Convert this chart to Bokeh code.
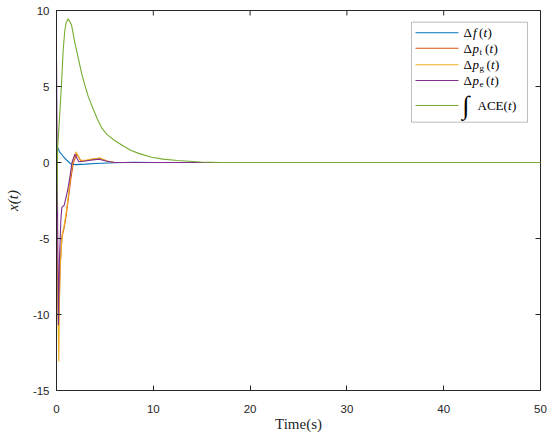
from bokeh.plotting import figure
from bokeh.models import Range1d, FixedTicker, BoxAnnotation, Label
from bokeh.embed import file_html
from bokeh.resources import INLINE

# ---------------- data ----------------
t_f = [0, 0.1, 0.3, 0.62, 1.1, 1.5, 2.0, 3.0, 4.0, 6.0, 8.0, 10.0, 15.0, 50.0]
d_f = [1.25, 1.0, 0.72, 0.46, 0.13, -0.11, -0.14, -0.11, -0.07, -0.02, 0.02, 0.0, 0.0, 0.0]

t_pt = [0, 0.06, 0.2, 0.3, 0.38, 0.45, 0.57, 0.8, 1.0, 1.2, 1.5, 1.75, 2.1, 2.5, 3.0, 3.6, 4.5, 5.2, 6.0, 8.0, 50.0]
d_pt = [-3.2, -5.6, -10.6, -8.8, -6.9, -6.0, -4.9, -4.25, -3.5, -2.5, -1.0, 0.0, 0.55, 0.12, 0.12, 0.2, 0.28, 0.1, 0.0, 0.0, 0.0]

t_pg = [0, 0.1, 0.24, 0.3, 0.36, 0.45, 0.57, 0.8, 1.0, 1.2, 1.45, 1.7, 2.0, 2.5, 3.0, 3.6, 4.5, 5.2, 6.0, 8.0, 50.0]
d_pg = [-1.0, -8.0, -13.1, -9.5, -7.0, -6.2, -4.8, -4.1, -3.3, -2.3, -0.8, 0.1, 0.7, 0.15, 0.14, 0.22, 0.3, 0.1, 0.0, 0.0, 0.0]

t_pe = [0, 0.1, 0.2, 0.3, 0.45, 0.55, 0.8, 1.15, 1.4, 1.6, 1.9, 2.3, 2.8, 3.5, 4.4, 5.2, 6.0, 8.0, 50.0]
d_pe = [6.7, -2.5, -10.7, -6.5, -3.8, -2.95, -2.8, -1.84, -0.9, 0.0, 0.55, 0.05, 0.08, 0.15, 0.22, 0.08, 0.0, 0.0, 0.0]

t_ace = [0, 0.03, 0.12, 0.34, 0.52, 0.69, 0.86, 1.0, 1.2, 1.4, 1.55, 1.89, 2.24, 2.58, 2.92, 3.3, 3.8, 4.2, 4.65,
         5.2, 6.0, 7.0, 7.7, 8.5, 9.8, 11.0, 12.5, 14.9, 17.0, 50.0]
d_ace = [0.0, -3.2, 1.0, 3.2, 5.2, 7.4, 8.7, 9.2, 9.45, 9.25, 9.05, 7.9, 6.9, 5.9, 5.1, 4.3, 3.5, 2.9, 2.3,
         1.85, 1.45, 1.05, 0.79, 0.6, 0.35, 0.22, 0.13, 0.03, 0.0, 0.0]

x_ticks = [0, 10, 20, 30, 40, 50]
x_tick_labels = ["0", "10", "20", "30", "40", "50"]
y_ticks = [-15, -10, -5, 0, 5, 10]
y_tick_labels = ["-15", "-10", "-5", "0", "5", "10"]

colors = ["#0072BD", "#D95319", "#EDB120", "#7E2F8E", "#77AC30"]

# ---------------- layout constants (page pixels) ----------------
X0, X1, Y0, Y1 = 0, 50, -15, 10
FL, FR, FT, FB = 56, 540, 10, 390   # frame edges on the page
W, H = 548, 436


def dx(px):
    return X0 + (px - FL) / (FR - FL) * (X1 - X0)


def dy(py):
    return Y1 - (py - FT) / (FB - FT) * (Y1 - Y0)


AX = "#262626"
TICK_FONT = "Liberation Sans"
SERIF = "Liberation Serif"

p = figure(width=W, height=H, output_backend="svg", toolbar_location=None,
           x_range=Range1d(X0, X1), y_range=Range1d(Y0, Y1),
           min_border_left=FL, min_border_right=W - FR, min_border_top=FT, min_border_bottom=H - FB)
p.background_fill_color = "white"
p.border_fill_color = "white"
p.outline_line_color = AX
p.outline_line_width = 1
p.xgrid.visible = False
p.ygrid.visible = False

for ax, ticks, labels in ((p.xaxis[0], x_ticks, x_tick_labels), (p.yaxis[0], y_ticks, y_tick_labels)):
    ax.ticker = FixedTicker(ticks=ticks)
    ax.major_label_overrides = {t: l for t, l in zip(ticks, labels)}
    ax.major_tick_in = 5
    ax.major_tick_out = 0
    ax.minor_tick_line_color = None
    ax.axis_line_color = AX
    ax.major_tick_line_color = AX
    ax.major_label_text_font = TICK_FONT
    ax.major_label_text_font_size = "11.5px"
    ax.major_label_text_color = AX
    ax.axis_label_text_font = SERIF
    ax.axis_label_text_font_size = "15px"
    ax.axis_label_text_color = AX

p.xaxis[0].axis_label = "Time(s)"
p.xaxis[0].axis_label_text_font_style = "normal"
p.xaxis[0].major_label_standoff = 14
p.xaxis[0].axis_label_standoff = 0
p.yaxis[0].axis_label = "x(t)"
p.yaxis[0].axis_label_text_font_style = "italic"
p.yaxis[0].major_label_standoff = 7
p.yaxis[0].axis_label_standoff = 9

# mirrored inward ticks on the top and right edges
tx = (X1 - X0) * 5 / (FR - FL)
ty = (Y1 - Y0) * 5 / (FB - FT)
p.segment(x0=x_ticks, x1=x_ticks, y0=[Y1] * len(x_ticks), y1=[Y1 - ty] * len(x_ticks), line_color=AX, line_width=1)
p.segment(x0=[X1] * len(y_ticks), x1=[X1 - tx] * len(y_ticks), y0=y_ticks, y1=y_ticks, line_color=AX, line_width=1)

# ---------------- curves ----------------
series = [(t_f, d_f), (t_pt, d_pt), (t_pg, d_pg), (t_pe, d_pe), (t_ace, d_ace)]
for (tt, vv), c in zip(series, colors):
    p.line(tt, vv, line_color=c, line_width=1.1)

# ---------------- legend (manual, for math-like labels) ----------------
p.add_layout(BoxAnnotation(left=dx(411), right=dx(527), top=dy(21.7), bottom=dy(121.7),
                           fill_color="white", fill_alpha=1.0, line_color=AX, line_width=1, level="underlay"))

row_y = [32.3, 47.7, 64.3, 80.0, 105.0]
p.segment(x0=[dx(415)] * 5, x1=[dx(458)] * 5, y0=[dy(r) for r in row_y], y1=[dy(r) for r in row_y],
          line_color=colors, line_width=1.1)


def txt(s, px, py, size="13px", style="normal"):
    p.add_layout(Label(x=dx(px), y=dy(py), text=s, text_font=SERIF, text_font_size=size,
                       text_font_style=style, text_color="black", text_align="left",
                       text_baseline="middle", level="overlay"))


# row 1: Δf(t)
txt("Δ", 463.0, row_y[0]); txt("f", 472.5, row_y[0], style="italic")
txt("(", 478.5, row_y[0]); txt("t", 483.0, row_y[0], style="italic"); txt(")", 487.0, row_y[0])
# rows 2-4: Δp_x(t)
for r, sub, after in ((1, "t", 484.5), (2, "g", 486.0), (3, "e", 485.5)):
    txt("Δ", 463.0, row_y[r])
    txt("p", 472.0, row_y[r], style="italic")
    txt(sub, 479.0, row_y[r] + 3.5, size="9px")
    txt("(", after, row_y[r]); txt("t", after + 4.5, row_y[r], style="italic"); txt(")", after + 8.5, row_y[r])
# row 5: ∫ACE(t)
txt("∫", 462.0, row_y[4], size="26px")
txt("ACE(", 477.0, row_y[4])
txt("t", 507.5, row_y[4], style="italic")
txt(")", 511.5, row_y[4])

open("out.html", "w").write(file_html(p, INLINE))
